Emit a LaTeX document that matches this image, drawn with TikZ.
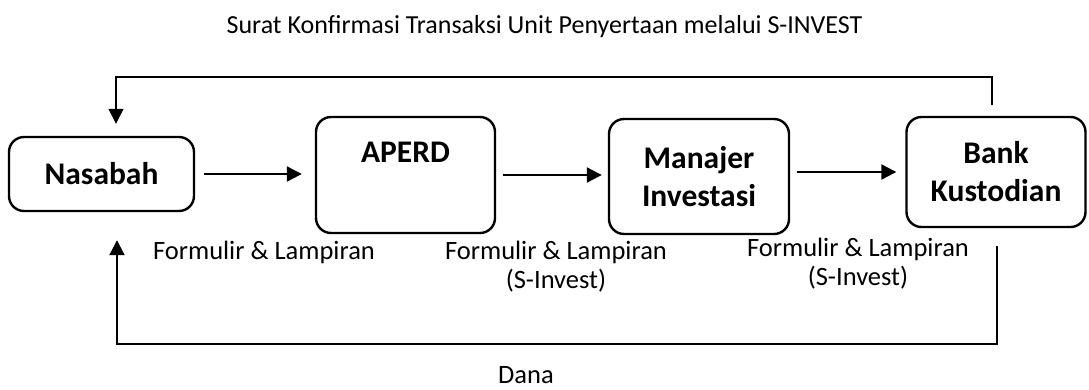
\documentclass[tikz,border=0pt]{standalone}
\usepackage{fontspec}
\setmainfont{Carlito}
\usetikzlibrary{positioning,calc,arrows.meta}

\tikzset{
  box/.style={draw,line width=2.4pt,rounded corners=15pt,inner sep=0pt,
    font=\fontsize{31.5}{38}\selectfont\bfseries,align=center},
  lbl/.style={font=\fontsize{26.5}{29}\selectfont,align=center,inner sep=0pt},
  arr/.style={line width=2.2pt,-{Triangle[length=15pt,width=15pt]}},
  fb/.style={line width=1.6pt}
}

\begin{document}
\begin{tikzpicture}[x=1pt,y=-1pt]
        \useasboundingbox (0,0) rectangle (1089,389);
        % title
        \node[lbl,font=\fontsize{26}{29}\selectfont] (title) at (544.5,27) {Surat Konfirmasi Transaksi Unit Penyertaan melalui S-INVEST};
        % boxes
        \node[box,minimum width=185pt,minimum height=74pt] (nas) at (101.5,174) {Nasabah};
        \node[box,minimum width=179pt,minimum height=116pt,
              label={[font=\fontsize{31.5}{38}\selectfont\bfseries,anchor=north,yshift=-23pt]north:APERD}] (aperd) at (405.5,175) {};
        \node[box,minimum width=180pt,minimum height=115pt] (mi) at (699,176.5) {Manajer\\Investasi};
        \node[box,minimum width=179pt,minimum height=110pt] (bk) at (996,172) {Bank\\Kustodian};
        % forward arrows
        \draw[arr] ([xshift=9pt]nas.east) -- ([xshift=-13pt]nas.east -| aperd.west);
        \draw[arr] ([xshift=7pt]aperd.east) -- ([xshift=-6pt]aperd.east -| mi.west);
        \draw[arr] ([xshift=7pt]bk.west -| mi.east) -- ([xshift=-9pt]bk.west);
        % feedback lines
        \draw[fb,-{Triangle[length=15pt,width=15pt]}] ([xshift=-4pt,yshift=11pt]bk.north) -- ++(0,-28) -| ([xshift=14.5pt,yshift=12pt]nas.north);
        \draw[line width=2pt,-{Triangle[length=15pt,width=15pt]}] ([xshift=1pt,yshift=-18pt]bk.south) -- ++(0,98) -| ([xshift=15.5pt,yshift=-28pt]nas.south);
        % labels
        \node[lbl] (l1) at (264,252) {Formulir \& Lampiran};
        \node[lbl] (l2) at (556,267) {Formulir \& Lampiran\\(S-Invest)};
        \node[lbl] (l3) at (858,264) {Formulir \& Lampiran\\(S-Invest)};
        \node[lbl] (dana) at (526,375) {Dana};
    \end{tikzpicture}
\end{document}
